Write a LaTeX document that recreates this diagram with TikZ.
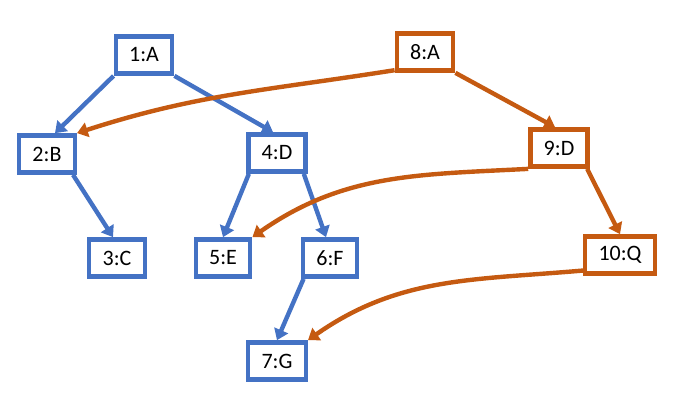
\documentclass[tikz,border=0pt]{standalone}
\usepackage{fontspec}
\setmainfont{Carlito}
\usetikzlibrary{arrows.meta}
\definecolor{treeblue}{HTML}{4472C4}
\definecolor{treeorange}{HTML}{C55A11}

\begin{document}
\begin{tikzpicture}[x=0.75pt, y=-0.75pt, line width=3.3pt,
    bbox/.style={draw=treeblue, fill=white, minimum width=40pt, minimum height=28pt, inner xsep=10pt, font=\fontsize{16.5}{19}\selectfont},
    obox/.style={bbox, draw=treeorange},
    barrow/.style={draw=treeblue, -{Triangle[length=8pt, width=11pt]}},
    oarrow/.style={draw=treeorange, -{Triangle[length=8pt, width=11pt]}}]
    \useasboundingbox (0,0) rectangle (677,411);
    \node[bbox] (n1) at (144,55) {1:A};
    \node[bbox] (n2) at (47,154) {2:B};
    \node[bbox] (n3) at (117,258) {3:C};
    \node[bbox] (n4) at (277,153) {4:D};
    \node[bbox] (n5) at (223,258) {5:E};
    \node[bbox] (n6) at (330,258) {6:F};
    \node[bbox] (n7) at (277,361) {7:G};
    \node[obox] (n8) at (425,52) {8:A};
    \node[obox] (n9) at (559,148) {9:D};
    \node[obox] (n10) at (620,255) {10:Q};
    \draw[barrow] (n1.south west) -- ([xshift=6pt]n2.north);
    \draw[barrow] (n1.south east) -- ([xshift=-3pt]n4.north);
    \draw[barrow] ([xshift=-3pt]n2.south east) -- ([xshift=-3pt]n3.north);
    \draw[barrow] ([xshift=2pt]n4.south west) -- (n5.north);
    \draw[barrow] ([xshift=-3pt]n4.south east) -- ([xshift=-3pt]n6.north);
    \draw[barrow] ([xshift=2pt]n6.south west) -- (n7.north);
    \draw[oarrow] (n8.south east) -- ([xshift=-3pt]n9.north);
    \draw[oarrow] ([xshift=-2pt]n9.south east) -- (n10.north);
    \draw[oarrow] ([yshift=2pt]n8.south west) to[out=189, in=18] (n2.north east);
    \draw[oarrow] (n9.south west) to[out=183, in=35] (n5.north east);
    \draw[oarrow] ([yshift=4pt]n10.south west) to[out=185, in=35] (n7.north east);
\end{tikzpicture}
\end{document}
